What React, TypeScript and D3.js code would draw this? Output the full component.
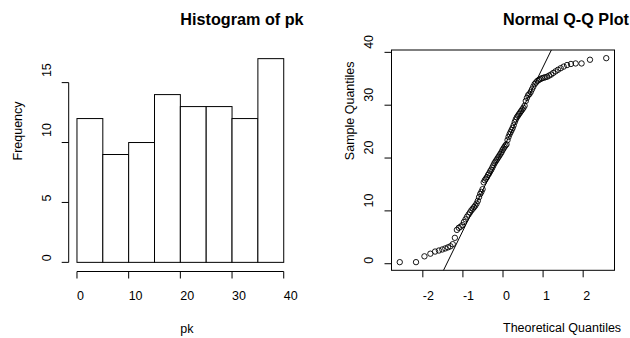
import React from 'react';
import * as d3 from 'd3';

// sample values of pk, read back off the Q-Q plot (sorted)
const pk = [
  0.3, 0.3, 1.4, 1.9, 2.3, 2.5, 2.7, 2.9, 3.1, 3.3, 3.7, 4.9,
  6.4, 6.8, 7.0, 7.3, 7.9, 8.4, 8.9, 9.3, 9.7,
  10.1, 10.4, 10.7, 11.0, 11.4, 11.9, 12.6, 13.2, 13.6, 14.1,
  15.4, 15.8, 16.1, 16.4, 16.8, 17.1, 17.5, 17.8, 18.2, 18.6, 19.0, 19.3, 19.6, 19.9,
  20.2, 20.5, 20.8, 21.1, 21.5, 21.8, 22.1, 22.4, 22.6, 23.4, 24.0, 24.5, 24.9,
  25.3, 25.7, 26.2, 26.8, 27.3, 27.7, 28.0, 28.3, 28.6, 28.9, 29.2, 29.5, 29.9,
  30.8, 31.4, 31.9, 32.1, 32.5, 33.0, 33.5, 34.0, 34.3, 34.6, 34.8, 34.95,
  35.1, 35.2, 35.3, 35.4, 35.6, 35.8, 36.1, 36.4, 36.7, 37.0, 37.3, 37.6, 37.8, 37.9, 37.9, 38.6, 38.9,
];

const histBreaks = [0, 5, 10, 15, 20, 25, 30, 35, 40];
const histXTicks = [0, 10, 20, 30, 40];
const histYTicks = [0, 5, 10, 15];
const qqXTicks = [-2, -1, 0, 1, 2];
const qqYTicks = [0, 10, 20, 30, 40];

const FONT = '"Liberation Sans", Arial, Helvetica, sans-serif';
const INK = '#000';
const FS = 12.5;
const TITLE_FS = 16.2;

// inverse normal cdf (Acklam)
function qnorm(p: number) {
  const a = [-3.969683028665376e1, 2.209460984245205e2, -2.759285104469687e2, 1.38357751867269e2, -3.066479806614716e1, 2.506628277459239];
  const b = [-5.447609879822406e1, 1.615858368580409e2, -1.556989798598866e2, 6.680131188771972e1, -1.328068155288572e1];
  const c = [-7.784894002430293e-3, -3.223964580411365e-1, -2.400758277161838, -2.549732539343734, 4.374664141464968, 2.938163982698783];
  const d = [7.784695709041462e-3, 3.224671290700398e-1, 2.445134137142996, 3.754408661907416];
  const pl = 0.02425;
  if (p < pl) {
    const q = Math.sqrt(-2 * Math.log(p));
    return (((((c[0] * q + c[1]) * q + c[2]) * q + c[3]) * q + c[4]) * q + c[5]) /
      ((((d[0] * q + d[1]) * q + d[2]) * q + d[3]) * q + 1);
  }
  if (p > 1 - pl) return -qnorm(1 - p);
  const q = p - 0.5;
  const r = q * q;
  return (((((a[0] * r + a[1]) * r + a[2]) * r + a[3]) * r + a[4]) * r + a[5]) * q /
    (((((b[0] * r + b[1]) * r + b[2]) * r + b[3]) * r + b[4]) * r + 1);
}

// R style 4% padding of the data range
function padded([lo, hi]: number[]) {
  const d = (hi - lo) * 0.04;
  return [lo - d, hi + d];
}

const VText = ({ x, y, children, size = FS }: any) => (
  <text transform={`translate(${x},${y}) rotate(-90)`} fontSize={size} fontFamily={FONT} fill={INK}>
    {children}
  </text>
);

const Histogram = () => {
  const box = { left: 68.7, right: 292, top: 50.5, bottom: 270.5 };
  const bins = d3.bin().domain([0, 40]).thresholds(histBreaks.slice(1, -1))(pk);
  const maxCount = d3.max(bins, b => b.length) as number;
  const x = d3.scaleLinear().domain(padded([0, 40])).range([box.left, box.right]);
  const y = d3.scaleLinear().domain(padded([0, maxCount])).range([box.bottom, box.top]);
  const cx = (box.left + box.right) / 2;
  const cy = (box.top + box.bottom) / 2;

  return (
    <g>
      <text x={cx} y={25} fontSize={TITLE_FS} fontWeight="bold" fontFamily={FONT} fill={INK}>Histogram of pk</text>
      {bins.map((b, i) => (
        <rect key={i} x={x(b.x0 as number)} y={y(b.length)} width={x(b.x1 as number) - x(b.x0 as number)}
          height={y(0) - y(b.length)} fill="#fff" stroke={INK} strokeWidth={1} />
      ))}
      {/* x axis */}
      <line x1={x(0)} x2={x(40)} y1={box.bottom + 1} y2={box.bottom + 1} stroke={INK} />
      {histXTicks.map(t => (
        <g key={t}>
          <line x1={x(t)} x2={x(t)} y1={box.bottom + 1} y2={box.bottom + 8} stroke={INK} />
          <text x={x(t)} y={299.5} fontSize={FS} fontFamily={FONT} fill={INK}>{t}</text>
        </g>
      ))}
      {/* y axis */}
      <line x1={box.left} x2={box.left} y1={y(0)} y2={y(15)} stroke={INK} />
      {histYTicks.map(t => (
        <g key={t}>
          <line x1={box.left - 7} x2={box.left} y1={y(t)} y2={y(t)} stroke={INK} />
          <VText x={51} y={y(t) - (String(t).length > 1 ? 5.5 : 1)}>{t}</VText>
        </g>
      ))}
      <text x={cx} y={332.5} fontSize={FS} fontFamily={FONT} fill={INK}>pk</text>
      <VText x={22} y={cy}>Frequency</VText>
    </g>
  );
};

const QQPlot = () => {
  const box = { left: 391.5, right: 614.5, top: 50, bottom: 270.3 };
  const n = pk.length;
  const sorted = [...pk].sort((a, b) => a - b);
  const pts = sorted.map((v, i) => ({ t: qnorm((i + 0.5) / n), v }));
  const x = d3.scaleLinear().domain(padded(d3.extent(pts, p => p.t) as number[])).range([box.left, box.right]);
  const y = d3.scaleLinear().domain(padded(d3.extent(pts, p => p.v) as number[])).range([box.bottom, box.top]);

  // qqline through the quartiles
  const q1 = d3.quantile(sorted, 0.25) as number;
  const q3 = d3.quantile(sorted, 0.75) as number;
  const z1 = qnorm(0.25);
  const z3 = qnorm(0.75);
  const slope = (q3 - q1) / (z3 - z1);
  const icpt = q1 - slope * z1;
  const [xl, xr] = x.domain();
  const cx = (box.left + box.right) / 2;
  const cy = (box.top + box.bottom) / 2;

  return (
    <g>
      <defs>
        <clipPath id="qqclip">
          <rect x={box.left} y={box.top} width={box.right - box.left} height={box.bottom - box.top} />
        </clipPath>
      </defs>
      <text x={cx} y={25} fontSize={TITLE_FS} fontWeight="bold" fontFamily={FONT} fill={INK}>Normal Q-Q Plot</text>
      <g fill="none" stroke={INK} strokeWidth={0.9}>
        {pts.map((p, i) => (
          <circle key={i} cx={x(p.t)} cy={y(p.v)} r={2.7} />
        ))}
      </g>
      <line clipPath="url(#qqclip)" x1={x(xl)} y1={y(icpt + slope * xl)} x2={x(xr)} y2={y(icpt + slope * xr)}
        stroke={INK} strokeWidth={1} />
      <rect x={box.left} y={box.top} width={box.right - box.left} height={box.bottom - box.top}
        fill="none" stroke={INK} />
      {qqXTicks.map(t => (
        <g key={t}>
          <line x1={x(t)} x2={x(t)} y1={box.bottom} y2={box.bottom + 7} stroke={INK} />
          <text x={x(t)} y={299.5} fontSize={FS} fontFamily={FONT} fill={INK}>{t}</text>
        </g>
      ))}
      {qqYTicks.map(t => (
        <g key={t}>
          <line x1={box.left - 7} x2={box.left} y1={y(t)} y2={y(t)} stroke={INK} />
          <VText x={373} y={y(t) - (String(t).length > 1 ? 3.5 : 0)}>{t}</VText>
        </g>
      ))}
      <text x={cx} y={332} fontSize={FS} fontFamily={FONT} fill={INK}>Theoretical Quantiles</text>
      <VText x={354} y={cy}>Sample Quantiles</VText>
    </g>
  );
};

export default function App() {
  return (
    <svg width={630} height={338} style={{ position: 'absolute', left: 0, top: 0, background: '#fff' }}>
      <rect width={630} height={338} fill="#fff" />
      <Histogram />
      <QQPlot />
    </svg>
  );
}
